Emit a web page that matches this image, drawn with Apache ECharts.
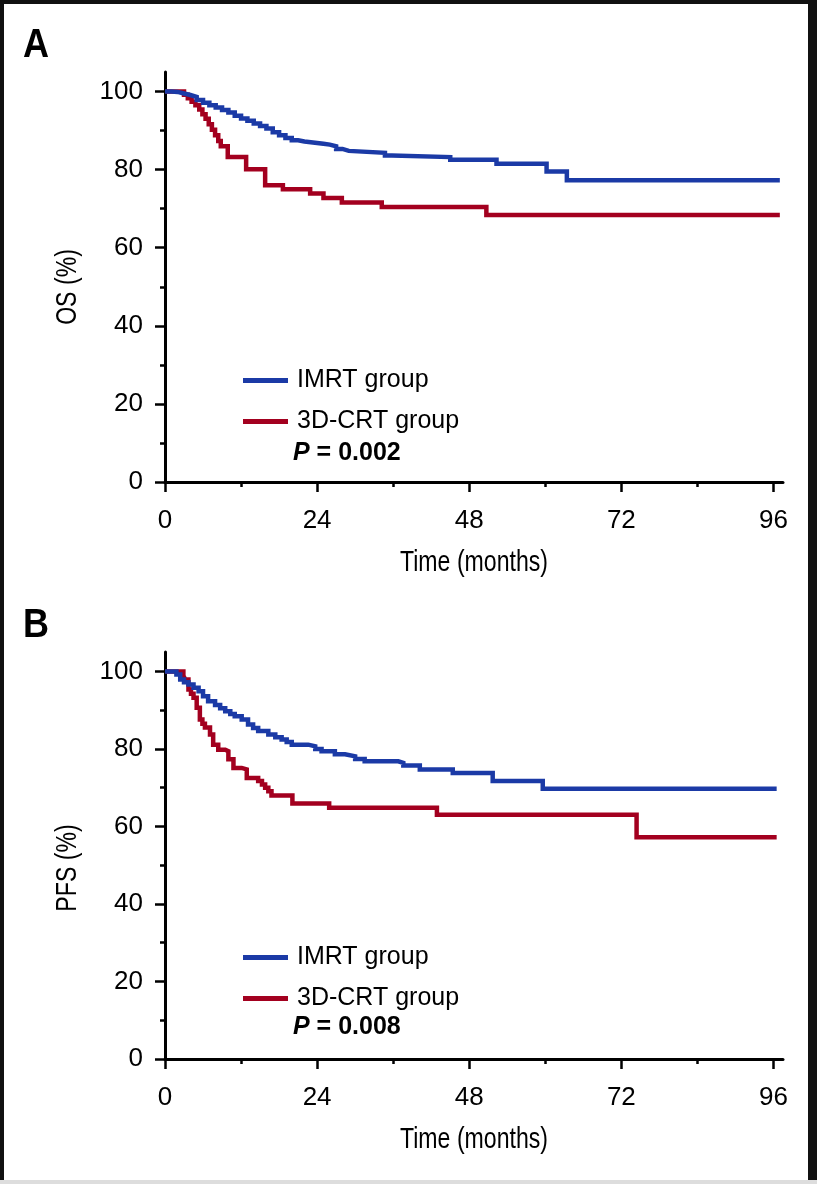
<!DOCTYPE html>
<html>
<head>
<meta charset="utf-8">
<script src="https://cdn.jsdelivr.net/npm/echarts@6/dist/echarts.min.js"></script>
<style>
html, body { margin: 0; padding: 0; background: #fff; }
#chart { width: 817px; height: 1184px; }
</style>
</head>
<body>
<div id="chart"></div>
<script>
// Kaplan-Meier curves, [month, percent] at each drop
var osImrt = [[0,100],[1,99.9],[2,99.5],[3,99.1],[4,98.6],[5,97.8],[6,97.1],[7,96.5],[8,95.9],[9,95.3],[10,94.6],[11,93.8],[12,93.1],[13,92.5],[14,91.8],[15,91.2],[16,90.5],[17,89.6],[18,88.8],[19,88.1],[20,87.5],[21,87.2],[22,87.0],[23,86.8],[24,86.6],[25,86.4],[26,86.0],[27,85.3],[28,84.8],[29,84.3],[34.7,83.6],[35.8,83.2],[45,82.5],[52.3,81.5],[60.2,79.5],[63.4,77.3],[97,77.3]];
var osCrt = [[0,100],[3,99.2],[3.6,98.3],[4.2,97.4],[4.8,96.5],[5.4,95.4],[5.9,94.2],[6.4,93],[6.9,91.6],[7.4,90.2],[7.9,88.8],[8.4,87.3],[8.8,86],[9.9,83.2],[12.8,80.1],[15.8,76.0],[18.6,75.0],[22.9,73.9],[25,72.7],[27.9,71.6],[34.2,70.4],[50.7,68.4],[97,68.4]];
var pfsImrt = [[0,100],[1.8,99.2],[2.4,97.9],[3,97.2],[3.7,96.6],[4.5,95.8],[5.3,94.9],[6,93.6],[6.8,92.3],[7.9,91.3],[8.7,90.5],[9.5,89.7],[10.3,89],[11,88.4],[12.1,87.6],[13.1,86.3],[13.9,85.4],[14.7,84.6],[16.3,83.7],[17.4,83],[18.4,82.4],[19.2,81.8],[20,81.1],[22.6,80.7],[23.7,80],[24.7,79.4],[26.8,78.6],[28.4,78.1],[30,77.4],[31.5,76.8],[36.8,76.4],[37.6,75.7],[40.2,74.7],[45.4,73.8],[51.7,71.7],[59.6,69.7],[96.5,69.7]];
var pfsCrt = [[0,100],[2.9,98.9],[3.2,97.9],[3.7,95.3],[4.1,94.2],[4.5,93.2],[5,90.6],[5.5,87.6],[5.9,86.5],[6.3,85.5],[7.1,83.7],[7.6,81.1],[8.4,79.8],[9.5,79.4],[10,77.3],[10.8,75.1],[12.1,74.7],[12.9,72.5],[14.7,71.7],[15.3,70.8],[15.8,70],[16.3,69.1],[16.8,68],[20.1,65.9],[25.9,64.8],[42.9,63],[74.4,57.2],[96.5,57.2]];

var groupNames = ['IMRT group', '3D-CRT group'];
var xMajor = [0, 24, 48, 72, 96];
var xMinor = [12, 36, 60, 84];
var yMajor = [0, 20, 40, 60, 80, 100];
var yMinor = [10, 30, 50, 70, 90];
var xName = 'Time (months)';
var yNames = ['OS (%)', 'PFS (%)'];
var pValues = ['0.002', '0.008'];

var BLUE = '#1b3aa6';
var RED = '#a3001f';
var FONT = "'Liberation Sans', Arial, Helvetica, sans-serif";

var chart = echarts.init(document.getElementById('chart'));

var grids = [
    {left: 165, top: 72, width: 618, height: 410},
    {left: 165, top: 652, width: 618, height: 407}
];

var xAxes = [], yAxes = [];
grids.forEach(function(g, i) {
    xAxes.push({
        gridIndex: i, type: 'value', min: 0, max: 97.5, position: 'bottom',
        axisLine: {lineStyle: {color: '#000', width: 3}},
        axisTick: {customValues: xMajor, length: 10, lineStyle: {color: '#000', width: 2.5}},
        axisLabel: {customValues: xMajor, margin: 26, fontSize: 26, color: '#000', fontFamily: FONT},
        splitLine: {show: false}
    });
    xAxes.push({
        gridIndex: i, type: 'value', min: 0, max: 97.5, position: 'bottom',
        axisLine: {show: false},
        axisTick: {customValues: xMinor, length: 5, lineStyle: {color: '#000', width: 2.5}},
        axisLabel: {show: false},
        splitLine: {show: false}
    });
    yAxes.push({
        gridIndex: i, type: 'value', min: 0, max: 105, position: 'left',
        axisLine: {show: true, lineStyle: {color: '#000', width: 3}},
        axisTick: {show: true, customValues: yMajor, length: 10, lineStyle: {color: '#000', width: 2.5}},
        axisLabel: {customValues: yMajor, margin: 22, fontSize: 26, color: '#000', fontFamily: FONT},
        splitLine: {show: false}
    });
    yAxes.push({
        gridIndex: i, type: 'value', min: 0, max: 105, position: 'left',
        axisLine: {show: false},
        axisTick: {show: true, customValues: yMinor, length: 5, lineStyle: {color: '#000', width: 2.5}},
        axisLabel: {show: false},
        splitLine: {show: false}
    });
});

function curve(name, data, color, panel) {
    return {
        name: name, type: 'line', step: 'end', data: data,
        xAxisIndex: panel * 2, yAxisIndex: panel * 2,
        symbol: 'none', color: color,
        lineStyle: {color: color, width: 4.5, cap: 'butt', join: 'miter'}
    };
}

function legendAt(top) {
    return {
        orient: 'vertical', left: 238, top: top,
        icon: 'rect', itemWidth: 45, itemHeight: 5, itemGap: 16,
        data: groupNames, selectedMode: false,
        textStyle: {fontSize: 25, color: '#000', fontFamily: FONT, padding: [0, 0, 0, 4]}
    };
}

function pText(top, val) {
    return {
        type: 'text', left: 293, top: top,
        style: {
            text: '{a|P}{b| = ' + val + '}',
            rich: {
                a: {fontSize: 25, fontWeight: 'bold', fontStyle: 'italic', fontFamily: FONT, fill: '#000'},
                b: {fontSize: 25, fontWeight: 'bold', fontFamily: FONT, fill: '#000'}
            }
        }
    };
}

// condensed axis titles, like the figure's narrow type
function title(text, x, y, rotate) {
    return {
        type: 'text', x: x, y: y, rotation: rotate ? Math.PI / 2 : 0, scaleX: 0.77,
        style: {text: text, fontSize: 30, fontFamily: FONT, fill: '#000', align: 'center', verticalAlign: 'middle'}
    };
}

var option = {
    animation: false,
    backgroundColor: '#fff',
    grid: grids,
    xAxis: xAxes,
    yAxis: yAxes,
    legend: [legendAt(363), legendAt(940)],
    series: [
        curve(groupNames[1], osCrt, RED, 0),
        curve(groupNames[0], osImrt, BLUE, 0),
        curve(groupNames[1], pfsCrt, RED, 1),
        curve(groupNames[0], pfsImrt, BLUE, 1)
    ],
    graphic: [
        {type: 'rect', shape: {x: 0, y: 0, width: 817, height: 4}, style: {fill: '#111'}},
        {type: 'rect', shape: {x: 0, y: 0, width: 4, height: 1184}, style: {fill: '#111'}},
        {type: 'rect', shape: {x: 808, y: 0, width: 9, height: 1184}, style: {fill: '#111'}},
        {type: 'rect', shape: {x: 0, y: 1180, width: 817, height: 4}, style: {fill: '#ddd'}},
        {type: 'text', left: 23, top: 26, scaleX: 0.9, style: {text: 'A', fontSize: 40, fontWeight: 'bold', fontFamily: FONT, fill: '#000'}},
        {type: 'text', left: 23, top: 606, scaleX: 0.9, style: {text: 'B', fontSize: 40, fontWeight: 'bold', fontFamily: FONT, fill: '#000'}},
        pText(441, pValues[0]),
        pText(1015, pValues[1]),
        title(xName, 474, 563, false),
        title(xName, 474, 1140, false),
        title(yNames[0], 68, 287, true),
        title(yNames[1], 68, 868, true)
    ]
};

chart.setOption(option);
</script>
</body>
</html>
